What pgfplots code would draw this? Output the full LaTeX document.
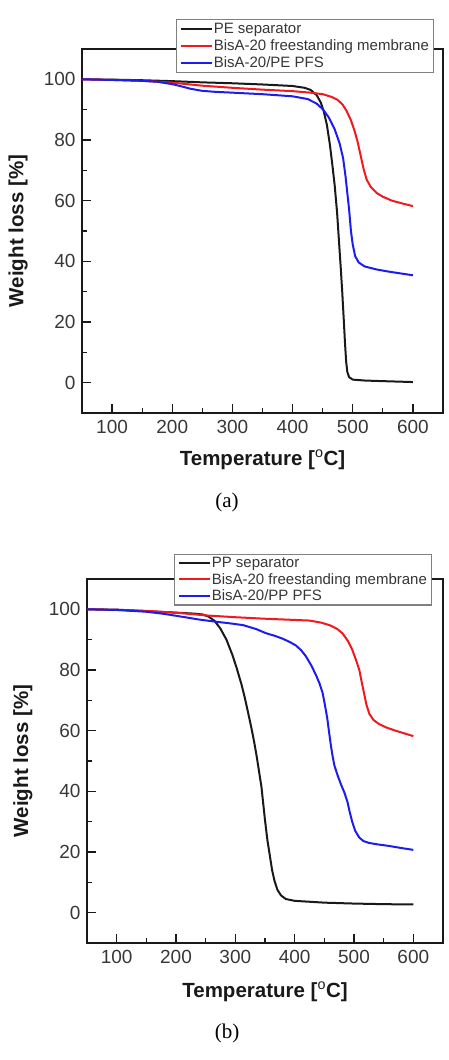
\documentclass[border=0pt]{standalone}
\usepackage{pgfplots}
\pgfplotsset{compat=1.18}
\usepackage{fontspec}
\setmainfont{Liberation Sans}
\newfontfamily\seriffont{Liberation Serif}
\definecolor{cblack}{RGB}{25,25,25}
\definecolor{cred}{RGB}{240,25,30}
\definecolor{cblue}{RGB}{28,28,240}
\definecolor{ctext}{RGB}{55,55,55}

\pgfplotsset{tga/.style={
  scale only axis,
  xmin=50, xmax=650, ymin=-10, ymax=110,
  xtick={100,200,...,600}, ytick={0,20,...,100},
  minor x tick num=1, minor y tick num=1,
  tick align=inside, tick pos=left,
  major tick length=9pt, minor tick length=4.5pt,
  axis line style={line width=1.6pt, cblack},
  every tick/.style={line width=1.3pt, cblack},
  /pgf/number format/assume math mode=true,
  ticklabel style={font=\fontsize{19}{21}\selectfont, text=ctext},
  xticklabel style={yshift=-4pt},
  yticklabel style={xshift=-3pt},
  label style={font=\bfseries\fontsize{20.5}{23}\selectfont, text=cblack},
  legend cell align=left,
  legend image code/.code={\draw[##1] (0pt,0pt) -- (31pt,0pt);},
  every axis plot/.append style={line width=2pt, no marks},
}}

\begin{document}
\begin{tikzpicture}
\useasboundingbox (0,0) rectangle (449pt,1060pt);

% ---------------- (a) ----------------
\begin{axis}[tga,
  at={(82pt,647pt)}, anchor=south west, width=361pt, height=364pt,
  xlabel={Temperature [$^{\mathrm{o}}$C]},
  ylabel={Weight loss [\%]},
  xlabel style={at={(axis description cs:0.5,-0.129)}, anchor=center},
  ylabel style={at={(axis description cs:-0.177,0.5)}, anchor=center},
  legend style={at={(0.975,1.082)}, anchor=north east, draw=gray, line width=1.1pt,
    fill=white, inner xsep=3.5pt, inner ysep=2pt, row sep=3pt,
    font=\fontsize{15}{17}\selectfont, text=ctext, nodes={inner sep=1pt}},
]
\addplot[cblack] coordinates {
(50,100) (100,99.9) (150,99.7) (200,99.4) (250,99.0) (300,98.7) (350,98.3)
(400,97.8) (420,97.2) (430,96.5) (440,94.8) (447,92.3) (452,89.3) (457,85)
(462,78.5) (466,72) (470,65) (474,56) (477,47) (480,38) (482.5,30) (485,21)
(487,13.5) (489,7) (491,3.5) (494,1.8) (500,1.0) (520,0.7) (550,0.5) (600,0.2)
};
\addlegendentry{PE separator}
\addplot[cred] coordinates {
(50,100) (100,99.8) (150,99.5) (200,98.9) (250,97.9) (300,97.2) (350,96.6)
(400,96.1) (430,95.6) (450,95.1) (465,94.2) (475,93.2) (483,91.7) (490,89.5)
(497,86.5) (503,83) (508,79.5) (513,75) (518,70.5) (523,67) (530,64.5)
(540,62.5) (550,61.3) (565,60) (580,59.2) (600,58.2)
};
\addlegendentry{BisA-20 freestanding membrane}
\addplot[cblue] coordinates {
(50,100) (100,99.8) (150,99.5) (175,99.2) (200,98.4) (215,97.7) (230,96.9)
(250,96.2) (270,95.9) (300,95.6) (350,95.1) (400,94.4) (425,93.5) (440,92)
(450,90.2) (460,87.5) (470,83.5) (478,79) (484,74) (488,68) (491,62.5)
(494,57) (497,50) (500,45.5) (504,41.7) (510,39.6) (520,38.3) (540,37.3)
(560,36.6) (580,36) (600,35.4)
};
\addlegendentry{BisA-20/PE PFS}
\end{axis}
\node[font=\seriffont\fontsize{21}{24}\selectfont] at (227pt,558pt) {(a)};

% ---------------- (b) ----------------
\begin{axis}[tga,
  at={(87pt,117pt)}, anchor=south west, width=356pt, height=364pt,
  xlabel={Temperature [$^{\mathrm{o}}$C]},
  ylabel={Weight loss [\%]},
  xlabel style={at={(axis description cs:0.5,-0.134)}, anchor=center},
  ylabel style={at={(axis description cs:-0.18,0.5)}, anchor=center},
  legend style={at={(0.969,1.069)}, anchor=north east, draw=gray, line width=1.1pt,
    fill=white, inner xsep=3.5pt, inner ysep=1.5pt, row sep=2.5pt,
    font=\fontsize{15}{17}\selectfont, text=ctext, nodes={inner sep=1pt}},
]
\addplot[cblack] coordinates {
(50,100) (100,99.9) (150,99.4) (200,98.9) (230,98.6) (245,98.3) (255,97.6)
(265,96.2) (275,93.6) (285,90) (295,85) (302,80.8) (310,75.5) (316,70.8)
(322,65.5) (327,61) (332,56) (336,51.5) (340,46.5) (344,41.5) (347,36)
(350,30.5) (354,24) (358,19) (362,14) (366,10.5) (371,7.5) (377,5.7)
(385,4.5) (400,3.9) (450,3.3) (500,3.0) (550,2.8) (600,2.7)
};
\addlegendentry{PP separator}
\addplot[cred] coordinates {
(50,100) (100,99.8) (150,99.5) (200,98.9) (250,98.0) (300,97.4) (350,96.9)
(400,96.5) (425,96.3) (445,95.6) (460,94.7) (472,93.5) (481,92) (490,89.5)
(497,86.7) (503,83.5) (509,80) (513,76) (517,72.3) (521,68.5) (526,65.5)
(533,63.5) (542,62.2) (555,61) (570,60) (585,59.1) (600,58.2)
};
\addlegendentry{BisA-20 freestanding membrane}
\addplot[cblue] coordinates {
(50,100) (100,99.8) (150,99.2) (180,98.5) (212,97.5) (240,96.6) (268,95.9)
(290,95.4) (313,94.8) (335,93.5) (352,92.1) (366,91.3) (380,90.3) (392,89.2)
(402,88.1) (411,86.5) (419,84.5) (428,81.5) (436,78.3) (442,75.5) (447,72.5)
(451,68.5) (455,64) (458,59.5) (461,55.2) (464,51.5) (467,48.5) (472,45.5)
(478,42.3) (484,39.5) (489,36.5) (493,33) (497.5,29.6) (502,27) (508.7,24.8)
(516,23.6) (525,23) (540,22.5) (559,22) (580,21.3) (600,20.7)
};
\addlegendentry{BisA-20/PP PFS}
\end{axis}
\node[font=\seriffont\fontsize{21}{24}\selectfont] at (227pt,27pt) {(b)};
\end{tikzpicture}
\end{document}
